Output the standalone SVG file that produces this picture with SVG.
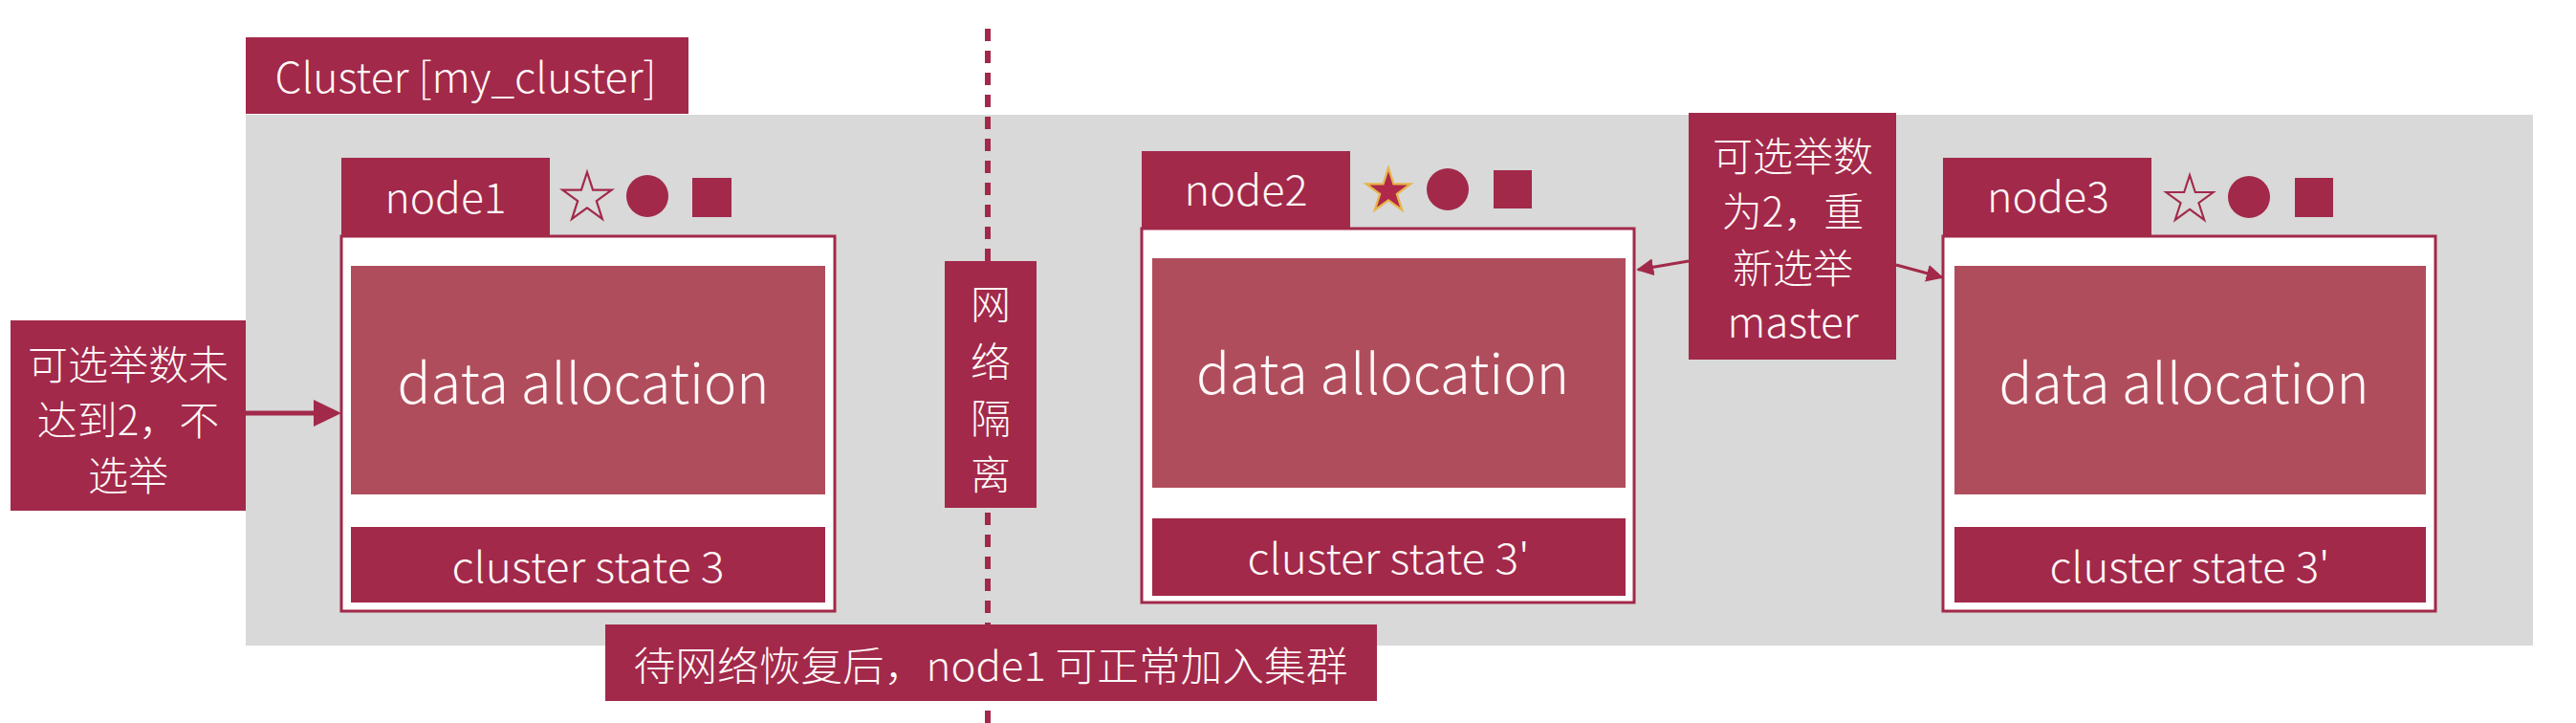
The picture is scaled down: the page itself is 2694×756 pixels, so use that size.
<svg xmlns="http://www.w3.org/2000/svg" width="2694" height="756" viewBox="0 0 2694 756">
<style>
.dk{fill:#a2294a}
.da{fill:#b04d5c}
.box{fill:#ffffff;stroke:#a2294a;stroke-width:3}
.t{font-family:"Noto Sans CJK SC","Noto Sans",sans-serif;font-weight:300;fill:#fff8f8;text-anchor:middle}
.ol{fill:none;stroke:#a2294a;stroke-width:2.2}
.fs{fill:#b0284a;stroke:#e6b54a;stroke-width:2.5}
.ln{stroke:#a2294a;fill:none}
</style>
<defs>
<polygon id="star" points="0,-27 6.06,-8.34 25.68,-8.34 9.81,3.19 15.87,21.84 0,10.31 -15.87,21.84 -9.81,3.19 -25.68,-8.34 -6.06,-8.34"/>
<marker id="ah" viewBox="0 0 10 10" refX="9" refY="5" markerWidth="6" markerHeight="6" orient="auto" markerUnits="strokeWidth">
<path d="M0,0 L10,5 L0,10 z" fill="#a2294a"/>
</marker>
</defs>
<rect width="2694" height="756" fill="#ffffff"/>
<g id="cluster">
<rect x="257" y="120" width="2392" height="555" fill="#d8d9d8"/>
<rect class="dk" x="257" y="39" width="463" height="80"/>
<text class="t" x="487" y="97" font-size="44" textLength="399" lengthAdjust="spacingAndGlyphs">Cluster [my_cluster]</text>
</g>
<g id="partition">
<line class="ln" x1="1033" y1="30" x2="1033" y2="756" stroke-width="6" stroke-dasharray="13 10"/>
<rect class="dk" x="988" y="273" width="96" height="258"/>
<text class="t" x="1036" y="334" font-size="42">网</text>
<text class="t" x="1036" y="394" font-size="42">络</text>
<text class="t" x="1036" y="453" font-size="42">隔</text>
<text class="t" x="1036" y="512" font-size="42">离</text>
</g>
<g id="recover-note">
<rect class="dk" x="633" y="653" width="807" height="80"/>
<text class="t" x="1036" y="712" font-size="42" textLength="747" lengthAdjust="spacingAndGlyphs">待网络恢复后，node1 可正常加入集群</text>
</g>
<g id="left-note">
<rect class="dk" x="11" y="335" width="246" height="199"/>
<text class="t" x="134" y="397" font-size="42">可选举数未</text>
<text class="t" x="134" y="455" font-size="42">达到2，不</text>
<text class="t" x="134" y="513" font-size="42">选举</text>
</g>
<g id="mid-note">
<rect class="dk" x="1766" y="118" width="217" height="258"/>
<text class="t" x="1875" y="179" font-size="42">可选举数</text>
<text class="t" x="1875" y="237" font-size="42">为2，重</text>
<text class="t" x="1875" y="296" font-size="42">新选举</text>
<text class="t" x="1875" y="353" font-size="44">master</text>
</g>
<g id="node1">
<rect class="dk" x="357" y="165" width="218" height="82"/>
<text class="t" x="466" y="223" font-size="44" textLength="127" lengthAdjust="spacingAndGlyphs">node1</text>
<use href="#star" class="ol" transform="translate(614,207)"/>
<circle class="dk" cx="677" cy="205" r="22"/>
<rect class="dk" x="724" y="186" width="41" height="41"/>
<rect class="box" x="357" y="247" width="516" height="392"/>
<rect class="da" x="367" y="278" width="496" height="239"/>
<text class="t" x="610" y="422" font-size="58" textLength="389" lengthAdjust="spacingAndGlyphs">data allocation</text>
<rect class="dk" x="367" y="551" width="496" height="79"/>
<text class="t" x="615" y="609" font-size="44" textLength="285" lengthAdjust="spacingAndGlyphs">cluster state 3</text>
</g>
<g id="node2">
<rect class="dk" x="1194" y="158" width="218" height="81"/>
<text class="t" x="1303" y="215" font-size="44" textLength="129" lengthAdjust="spacingAndGlyphs">node2</text>
<use href="#star" class="fs" transform="translate(1452,200) scale(0.9)"/>
<circle class="dk" cx="1514" cy="198" r="22"/>
<rect class="dk" x="1562" y="178" width="40" height="40"/>
<rect class="box" x="1194" y="239" width="515" height="391"/>
<rect class="da" x="1205" y="270" width="495" height="240"/>
<text class="t" x="1446" y="412" font-size="58" textLength="390" lengthAdjust="spacingAndGlyphs">data allocation</text>
<rect class="dk" x="1205" y="542" width="495" height="81"/>
<text class="t" x="1452" y="600" font-size="44" textLength="295" lengthAdjust="spacingAndGlyphs">cluster state 3'</text>
</g>
<g id="node3">
<rect class="dk" x="2032" y="165" width="218" height="82"/>
<text class="t" x="2142" y="222" font-size="44" textLength="128" lengthAdjust="spacingAndGlyphs">node3</text>
<use href="#star" class="ol" transform="translate(2290,209) scale(0.96)"/>
<circle class="dk" cx="2352" cy="206" r="22"/>
<rect class="dk" x="2400" y="186" width="40" height="41"/>
<rect class="box" x="2032" y="247" width="515" height="392"/>
<rect class="da" x="2044" y="278" width="493" height="239"/>
<text class="t" x="2284" y="422" font-size="58" textLength="387" lengthAdjust="spacingAndGlyphs">data allocation</text>
<rect class="dk" x="2044" y="551" width="493" height="79"/>
<text class="t" x="2290" y="609" font-size="44" textLength="293" lengthAdjust="spacingAndGlyphs">cluster state 3'</text>
</g>
<g id="connectors">
<line class="ln" x1="257" y1="432" x2="331" y2="432" stroke-width="5"/>
<polygon points="328,418 357,432 328,446" fill="#a2294a"/>
<line class="ln" x1="1766" y1="273" x2="1713" y2="282" stroke-width="3" marker-end="url(#ah)"/>
<line class="ln" x1="1983" y1="277" x2="2031" y2="290" stroke-width="3" marker-end="url(#ah)"/>
</g>
</svg>
